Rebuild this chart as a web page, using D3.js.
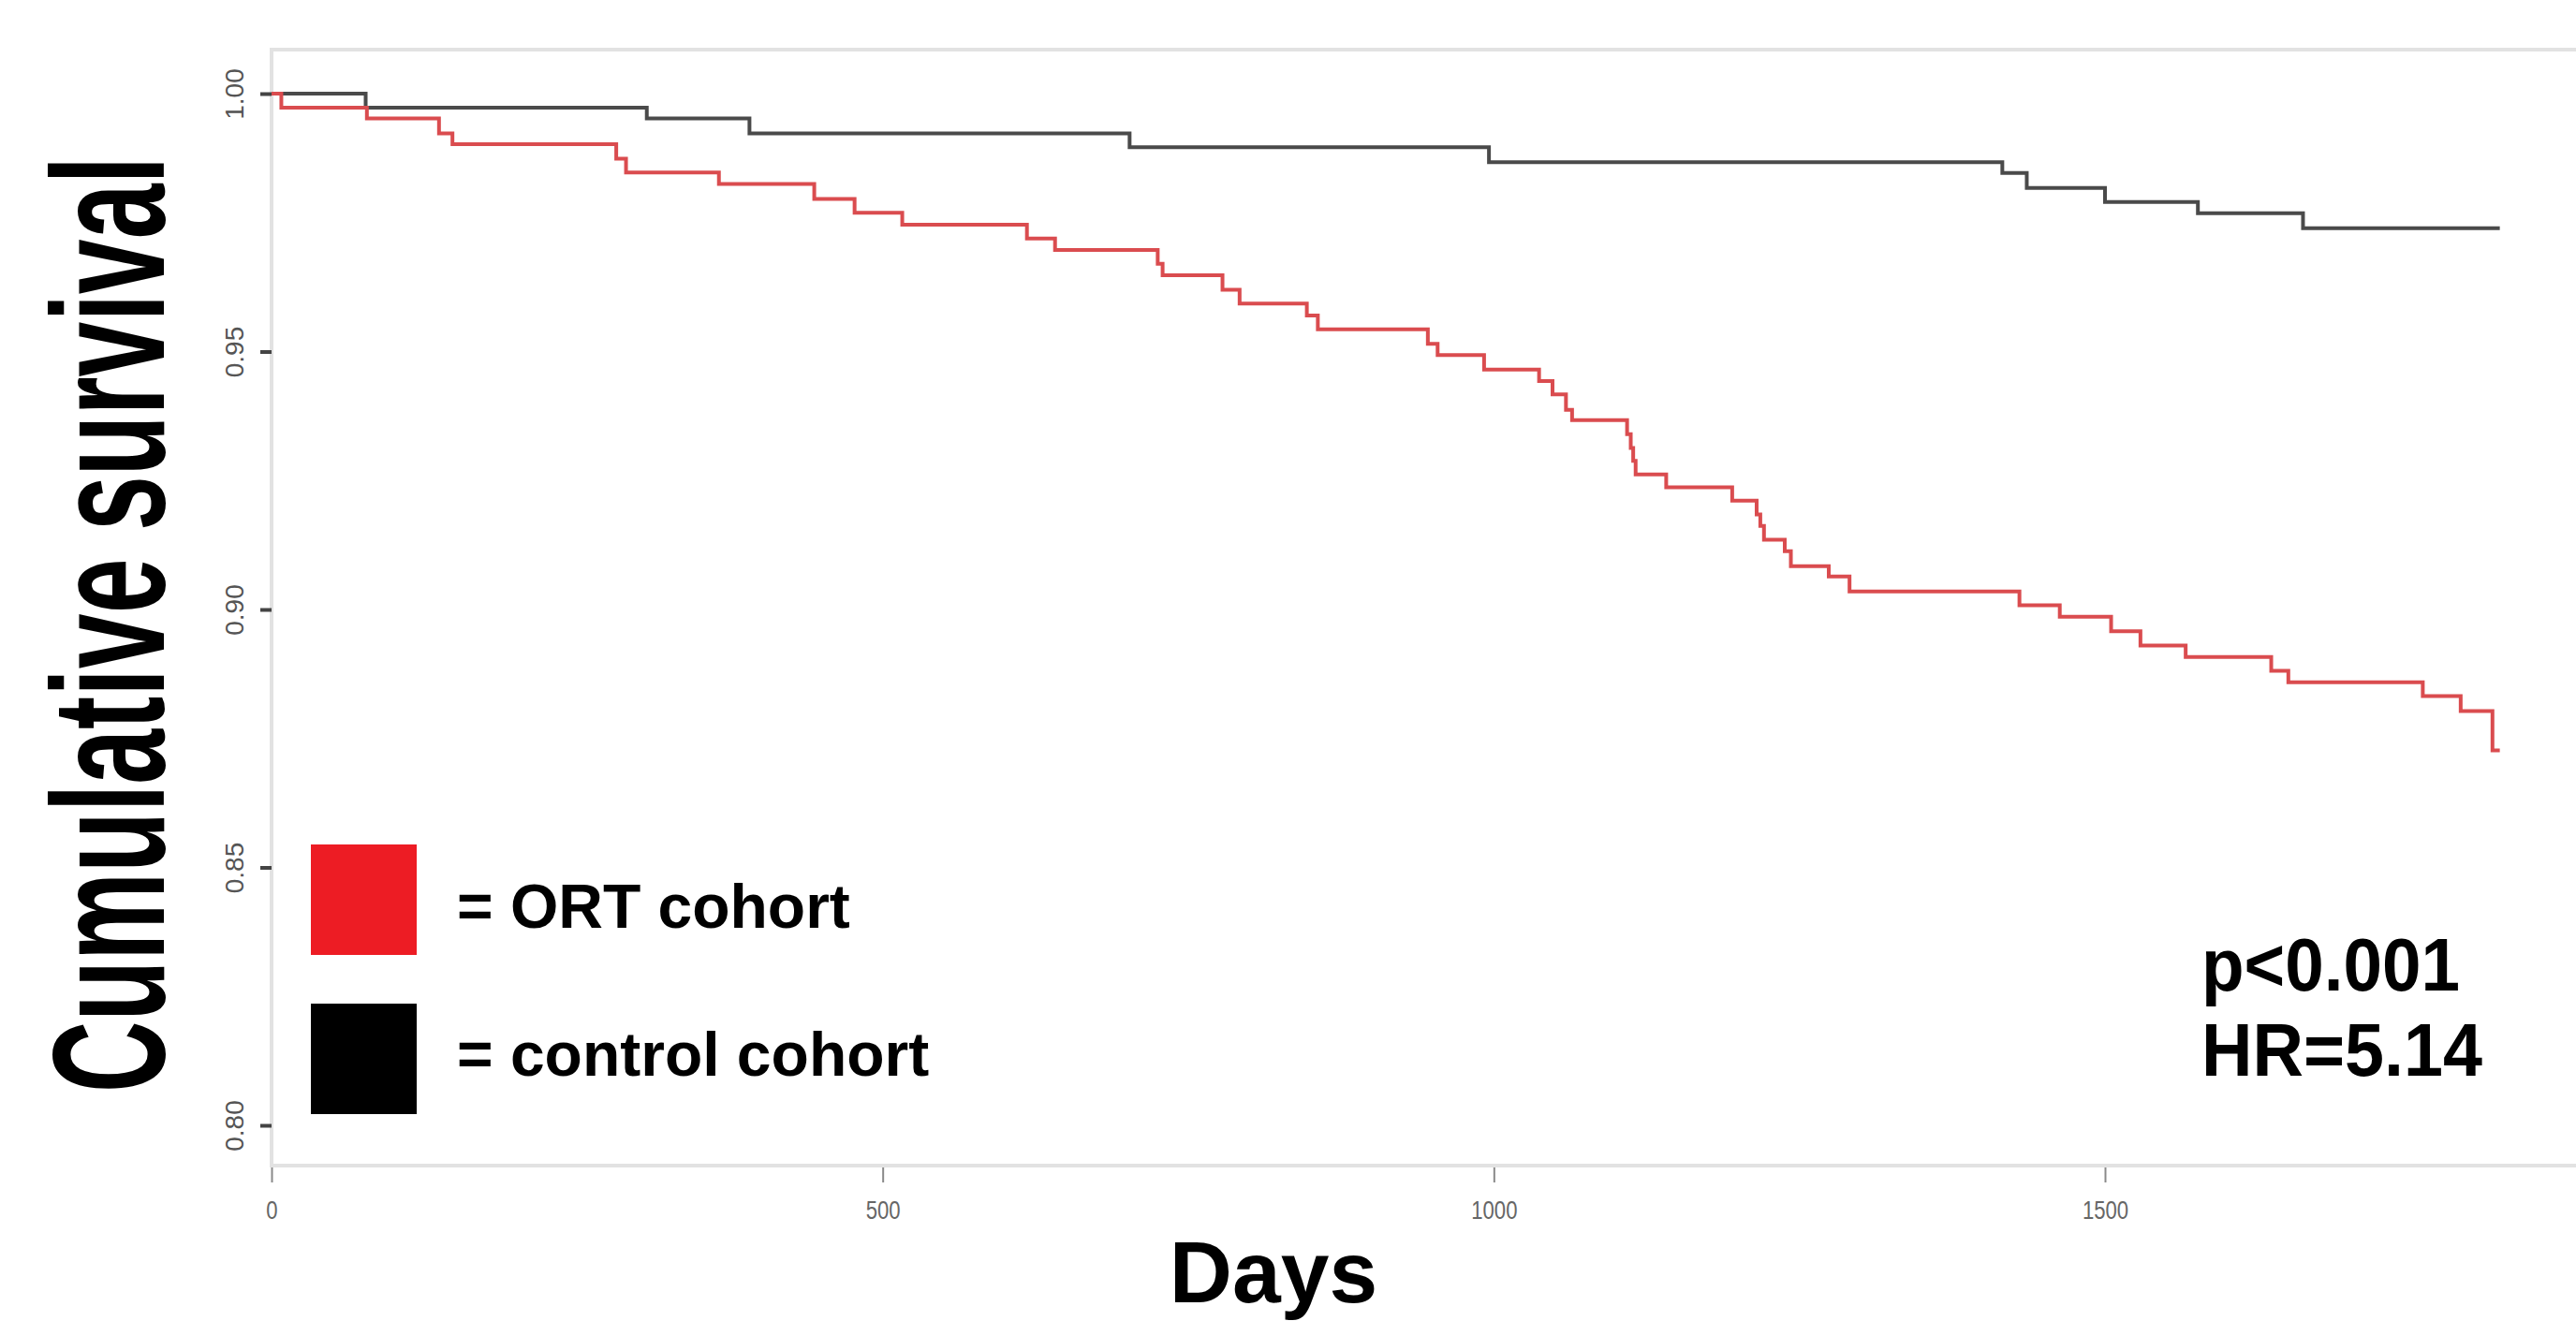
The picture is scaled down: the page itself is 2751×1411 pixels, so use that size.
<!DOCTYPE html>
<html>
<head>
<meta charset="utf-8">
<script src="https://cdn.jsdelivr.net/npm/d3@7"></script>
<style>
  html, body { margin: 0; padding: 0; background: #fff; }
  svg { display: block; }
  text { font-family: "Liberation Sans", Arial, sans-serif; }
</style>
</head>
<body>
<svg id="chart" width="2751" height="1411"></svg>
<script>
// ---- Data ----
const ortDays = [0, 8, 78, 137, 148, 282, 290, 366, 444, 477, 516, 618, 641, 725, 729, 778, 792, 847, 856, 946, 954, 992, 1037, 1048, 1059, 1064, 1109, 1112, 1114, 1116, 1141, 1195, 1215, 1218, 1221, 1238, 1243, 1274, 1291, 1430, 1463, 1505, 1529, 1566, 1636, 1650, 1760, 1791, 1817];
const ortSurv = [1.0, 0.9973, 0.9952, 0.9923, 0.9902, 0.9874, 0.9847, 0.9825, 0.9796, 0.9769, 0.9746, 0.9719, 0.9697, 0.9670, 0.9648, 0.9620, 0.9593, 0.9570, 0.9543, 0.9515, 0.9493, 0.9465, 0.9443, 0.9417, 0.9387, 0.9367, 0.9340, 0.9313, 0.9288, 0.9262, 0.9237, 0.9211, 0.9184, 0.9162, 0.9135, 0.9113, 0.9084, 0.9064, 0.9035, 0.9008, 0.8986, 0.8958, 0.8930, 0.8908, 0.8881, 0.8859, 0.8832, 0.8803, 0.8727];
const ctrlDays = [0, 77, 307, 391, 702, 996, 1416, 1436, 1500, 1576, 1662];
const ctrlSurv = [1.0, 0.9973, 0.9952, 0.9923, 0.9896, 0.9867, 0.9846, 0.9817, 0.9790, 0.9768, 0.9739];
const followUpEnd = 1823;

const xTicks = [0, 500, 1000, 1500];
const yTicks = [0.80, 0.85, 0.90, 0.95, 1.00];
const yTickLabels = ["0.80", "0.85", "0.90", "0.95", "1.00"];

const legendLabels = ["= ORT cohort", "= control cohort"];
const legendColors = ["#ED1C24", "#000000"];
const annotations = ["p<0.001", "HR=5.14"];

// ---- Layout ----
const svg = d3.select("#chart");
const x = d3.scaleLinear().domain([0, 1500]).range([290, 2248]);
const y = d3.scaleLinear().domain([0.80, 1.00]).range([1202, 100]);

// plot frame (light grey box)
svg.append("rect")
  .attr("x", 290).attr("y", 53)
  .attr("width", 2600).attr("height", 1192)
  .attr("fill", "none").attr("stroke", "#e2e2e2").attr("stroke-width", 4);

// x axis
const xAxis = svg.append("g")
  .attr("transform", "translate(0,1247)")
  .call(d3.axisBottom(x).tickValues(xTicks).tickSize(16).tickFormat(d3.format("d")));
xAxis.select(".domain").remove();
xAxis.selectAll("line").attr("stroke", "#8a8a8a").attr("stroke-width", 2);
xAxis.selectAll("text")
  .attr("y", 55).attr("dy", 0)
  .attr("fill", "#666")
  .style("font-size", "27px")
  .attr("transform", "scale(0.82,1)");

// y axis
const yAxis = svg.append("g")
  .attr("transform", "translate(290,0)")
  .call(d3.axisLeft(y).tickValues(yTicks).tickSize(12).tickFormat((d, i) => yTickLabels[i]));
yAxis.select(".domain").remove();
yAxis.selectAll("line").attr("stroke", "#444").attr("stroke-width", 4);
yAxis.selectAll("text")
  .attr("x", 0).attr("y", 0).attr("dy", 0)
  .attr("text-anchor", "middle")
  .attr("fill", "#555")
  .style("font-size", "28px")
  .attr("transform", "translate(-30,0) rotate(-90)");

// curves
function stepData(days, surv) {
  const pts = days.map((d, i) => [d, surv[i]]);
  pts.push([followUpEnd, surv[surv.length - 1]]);
  return pts;
}
const line = d3.line().x(d => x(d[0])).y(d => y(d[1])).curve(d3.curveStepAfter);

svg.append("path")
  .attr("d", line(stepData(ctrlDays, ctrlSurv)))
  .attr("fill", "none").attr("stroke", "#4a4a4a").attr("stroke-width", 4);
svg.append("path")
  .attr("d", line(stepData(ortDays, ortSurv)))
  .attr("fill", "none").attr("stroke", "#da4c4f").attr("stroke-width", 4);

// axis titles
const yTitle = svg.append("text")
  .attr("text-anchor", "middle")
  .attr("font-weight", "bold")
  .style("font-size", "170px")
  .text("Cumulative survival");
const yLen = yTitle.node().getComputedTextLength();
yTitle.attr("transform", `translate(175,667) rotate(-90) scale(${1000 / yLen},1)`);

svg.append("text")
  .attr("x", 1360).attr("y", 1391)
  .attr("text-anchor", "middle")
  .attr("font-weight", "bold")
  .style("font-size", "93px")
  .text("Days");

// legend
const legendY = [902, 1072];
const legendBase = [991, 1149];
legendLabels.forEach((lab, i) => {
  svg.append("rect")
    .attr("x", 332).attr("y", legendY[i])
    .attr("width", 113).attr("height", 118)
    .attr("fill", legendColors[i]);
  svg.append("text")
    .attr("x", 488).attr("y", legendBase[i])
    .attr("font-weight", "bold")
    .style("font-size", "66px")
    .attr("fill", "#000")
    .text(lab);
});

// annotations
const annBase = [1058, 1149];
const annLen = [276, 300];
annotations.forEach((t, i) => {
  const tx = svg.append("text")
    .attr("font-weight", "bold")
    .style("font-size", "80px")
    .attr("fill", "#000")
    .text(t);
  const len = tx.node().getComputedTextLength();
  tx.attr("transform", `translate(2351,${annBase[i]}) scale(${annLen[i] / len},1)`);
});
</script>
</body>
</html>
